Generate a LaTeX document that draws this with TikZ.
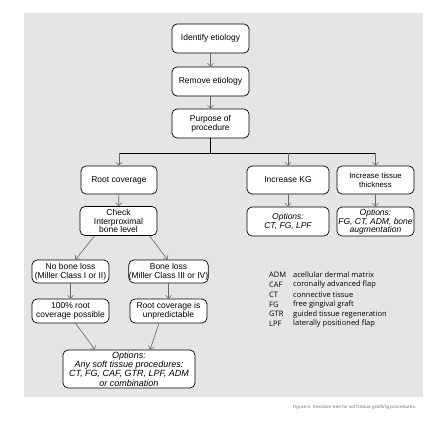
\documentclass[tikz,border=0pt]{standalone}
\usepackage{fontspec}
\setmainfont{Liberation Sans}
\newfontfamily\legendfont{Open Sans}
\newfontfamily\capfont{Poppins}
\usetikzlibrary{arrows.meta}
\definecolor{panelgray}{RGB}{229,229,229}
\definecolor{captiongray}{RGB}{110,110,110}
\tikzset{
  treebox/.style={draw=black, fill=white, rounded corners=5pt, line width=0.7pt, inner sep=0pt,
    align=center, minimum width=77pt, minimum height=29pt, font=\fontsize{8.5}{9}\selectfont},
  optbox/.style={treebox, font=\fontsize{8.5}{9.2}\selectfont\itshape},
  arr/.style={draw=black!60, line width=0.6pt, -{Straight Barb[length=3pt,width=6pt]}},
  legendtext/.style={anchor=west, inner sep=0pt, font=\fontsize{7.5}{8}\selectfont\legendfont},
}
\begin{document}
\begin{tikzpicture}[x=1pt,y=-1pt]
\useasboundingbox (0,0) rectangle (440,423);

%Shape: Panel
\fill [panelgray] (24,13) rectangle (423,397);

%Box: top column
\node [treebox] (ident) at (210.5,38.5) {Identify etiology};
\node [treebox] (remove) at (210.5,81.5) {Remove etiology};
\node [treebox] (purpose) at (210.5,123.5) {Purpose of\\procedure};

%Box: second row
\node [treebox, minimum width=76pt, minimum height=28pt] (root) at (119,180) {Root coverage};
\node [treebox, minimum width=82pt, minimum height=28pt] (kg) at (288,180) {Increase KG};
\node [treebox, minimum height=28pt, font=\fontsize{7.8}{8.6}\selectfont] (thick) at (375.5,180) {Increase tissue\\thickness};

%Box: third row
\node [treebox, font=\fontsize{8.5}{8.7}\selectfont] (check) at (118.5,221) {Check\\Interproximal\\bone level};
\node [optbox, minimum width=82pt] (optkg) at (288,221.5) {Options:\\CT, FG, LPF};
\node [optbox, font=\fontsize{8.5}{7.8}\selectfont\itshape] (optthick) at (375.5,221.5) {Options:\\FG, CT, ADM, bone\\augmentation};

%Box: bone level branches
\node [treebox, minimum height=23pt] (nobone) at (70.5,271.5) {No bone loss\\(Miller Class I or II)};
\node [treebox, minimum height=23pt] (bone) at (168.5,271.5) {Bone loss\\(Miller Class III or IV)};
\node [treebox, minimum height=24pt] (full) at (70.5,311) {100\% root\\coverage possible};
\node [treebox, minimum height=24pt] (unpred) at (168.5,311) {Root coverage is\\unpredictable};
\node [optbox, minimum width=132pt, minimum height=38pt, font=\fontsize{9}{9.2}\selectfont\itshape] (optall) at (129,369) {Options:\\Any soft tissue procedures:\\CT, FG, CAF, GTR, LPF, ADM\\or combination};

%Straight Lines: top column
\draw [arr] (ident) -- (remove);
\draw [arr] (remove) -- (purpose);

%Straight Lines: bus
\coordinate (bus) at (210.5,153);
\draw [line width=0.7pt] (purpose.south) -- (bus);
\draw [line width=0.7pt] (root.north |- bus) -- (thick.north |- bus);
\draw [arr] (root.north |- bus) -- (root.north);
\draw [arr] (kg.north |- bus) -- (kg.north);
\draw [arr] (thick.north |- bus) -- (thick.north);

%Straight Lines: down the branches
\draw [arr] (root) -- (check);
\draw [arr] (kg) -- (optkg);
\draw [arr] (thick) -- (optthick);
\draw [arr] ([xshift=-24pt]check.south) -- ([xshift=5pt]nobone.north);
\draw [arr] ([xshift=31pt]check.south) -- ([xshift=-1pt]bone.north);
\draw [arr] (nobone) -- (full);
\draw [arr] (bone) -- (unpred);
\draw [arr] ([xshift=5pt]full.south) -- ([xshift=-34pt]optall.north);
\draw [arr] ([xshift=-9.5pt]unpred.south) -- ([xshift=21pt]optall.north);

% Text Node: legend
\foreach \abbr/\desc [count=\i] in {ADM/acellular dermal matrix, CAF/coronally advanced flap,
    CT/connective tissue, FG/free gingival graft, GTR/guided tissue regeneration, LPF/laterally positioned flap}
{
  \node [legendtext] (abbr\i) at (269,265.2+9.8*\i) {\abbr};
  \node [legendtext] (desc\i) at (293,265.2+9.8*\i) {\desc};
}

% Text Node: caption
\node [anchor=east, inner sep=0pt, text=captiongray, font=\fontsize{4.3}{5}\selectfont\capfont] (caption) at (416,407) {Figure 5.\ \ Decision tree for soft tissue grafting procedures.};

\end{tikzpicture}
\end{document}
